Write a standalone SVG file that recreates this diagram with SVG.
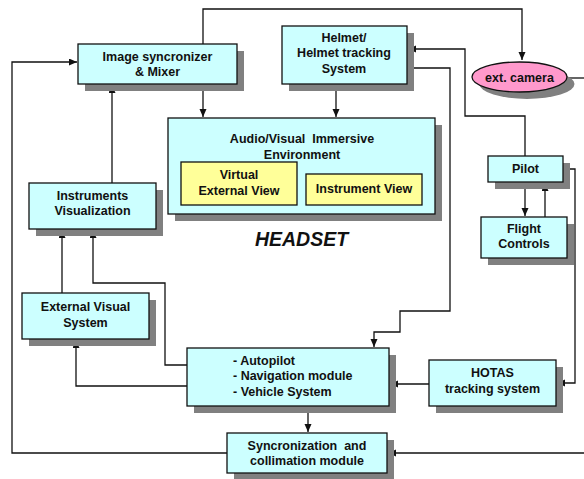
<svg xmlns="http://www.w3.org/2000/svg" width="584" height="479" viewBox="0 0 584 479">
<style>
.box{fill:#CCFFFF;stroke:#111;stroke-width:1.3}
.yel{fill:#FFFF99;stroke:#111;stroke-width:1.3}
.sh{fill:#808080}
text{font-family:"Liberation Sans",Arial,sans-serif;font-weight:bold;font-size:12.5px;fill:#111;text-anchor:middle}
.c{fill:none;stroke:#111;stroke-width:1.3}
</style>
<defs>
<marker id="ah" markerUnits="userSpaceOnUse" markerWidth="9" markerHeight="8" refX="8" refY="3.5" orient="auto">
<path d="M0,0 L8,3.5 L0,7 z" fill="#111"/>
</marker>
</defs>
<rect width="584" height="479" fill="#fff"/>
<g id="connectors">
<path class="c" d="M203,44 V9 H522 V60" marker-end="url(#ah)"/>
<path class="c" d="M227,453 H12 V62 H77" marker-end="url(#ah)"/>
<path class="c" d="M203,84 V117" marker-end="url(#ah)"/>
<path class="c" d="M336,84 V117" marker-end="url(#ah)"/>
<path class="c" d="M525,156 V116 H465 V49 H408" marker-end="url(#ah)"/>
<path class="c" d="M407,68 H450 V311 H400 V332 H374 V347" marker-end="url(#ah)"/>
<path class="c" d="M567,78 H584"/>
<path class="c" d="M584,453 H388" marker-end="url(#ah)"/>
<path class="c" d="M525,182 V216" marker-end="url(#ah)"/>
<path class="c" d="M545,217 V183" marker-end="url(#ah)"/>
<path class="c" d="M563,169 H575 V383 H557" marker-end="url(#ah)"/>
<path class="c" d="M429,384 H390" marker-end="url(#ah)"/>
<path class="c" d="M308,406 V432" marker-end="url(#ah)"/>
<path class="c" d="M112,183 V85" marker-end="url(#ah)"/>
<path class="c" d="M62,293 V230" marker-end="url(#ah)"/>
<path class="c" d="M187,365 H165 V283 H93 V230" marker-end="url(#ah)"/>
<path class="c" d="M187,386 H76 V340" marker-end="url(#ah)"/>
</g>
<g id="image-sync">
<rect class="sh" x="85" y="51" width="159" height="40"/>
<rect class="box" x="78" y="44" width="159" height="40"/>
<text x="157.5" y="61">Image syncronizer</text>
<text x="157.5" y="76">&amp; Mixer</text>
</g>
<g id="helmet">
<rect class="sh" x="289" y="33" width="125" height="58"/>
<rect class="box" x="282" y="26" width="125" height="58"/>
<text x="344" y="42">Helmet/</text>
<text x="344" y="57">Helmet tracking</text>
<text x="344" y="73">System</text>
</g>
<g id="ext-camera">
<ellipse cx="527" cy="84" rx="47.5" ry="15" fill="#808080"/>
<ellipse cx="519.5" cy="77" rx="47.5" ry="15" fill="#FF99CC" stroke="#111" stroke-width="1.3"/>
<text x="519.5" y="82">ext. camera</text>
</g>
<g id="av-environment">
<rect class="sh" x="175" y="125" width="267" height="96"/>
<rect class="box" x="168" y="118" width="267" height="96"/>
<text x="302" y="143" xml:space="preserve">Audio/Visual  Immersive</text>
<text x="302" y="159">Environment</text>
</g>
<g id="virtual-external-view">
<rect class="yel" x="181" y="162" width="116" height="43"/>
<text x="239" y="179">Virtual</text>
<text x="239" y="195">External View</text>
</g>
<g id="instrument-view">
<rect class="yel" x="306" y="174" width="116" height="31"/>
<text x="364" y="193">Instrument View</text>
</g>
<g id="headset-label">
<text x="301.5" y="246" style="font-size:19.5px;font-style:italic">HEADSET</text>
</g>
<g id="pilot">
<rect class="sh" x="495" y="163" width="75" height="26"/>
<rect class="box" x="488" y="156" width="75" height="26"/>
<text x="525.5" y="173">Pilot</text>
</g>
<g id="flight-controls">
<rect class="sh" x="488" y="224" width="86" height="41"/>
<rect class="box" x="481" y="217" width="86" height="41"/>
<text x="524" y="233">Flight</text>
<text x="524" y="248">Controls</text>
</g>
<g id="instruments-visualization">
<rect class="sh" x="36" y="190" width="127" height="46"/>
<rect class="box" x="29" y="183" width="127" height="46"/>
<text x="92.5" y="200">Instruments</text>
<text x="92.5" y="215">Visualization</text>
</g>
<g id="external-visual-system">
<rect class="sh" x="29" y="300" width="127" height="46"/>
<rect class="box" x="22" y="293" width="127" height="46"/>
<text x="85.5" y="311">External Visual</text>
<text x="85.5" y="327">System</text>
</g>
<g id="nav-module">
<rect class="sh" x="194" y="355" width="202" height="58"/>
<rect class="box" x="187" y="348" width="202" height="58"/>
<text x="233" y="365" style="text-anchor:start">- Autopilot</text>
<text x="233" y="380" style="text-anchor:start">- Navigation module</text>
<text x="233" y="395.5" style="text-anchor:start">- Vehicle System</text>
</g>
<g id="hotas">
<rect class="sh" x="436" y="367" width="127" height="46"/>
<rect class="box" x="429" y="360" width="127" height="46"/>
<text x="492.5" y="377">HOTAS</text>
<text x="492.5" y="393">tracking system</text>
</g>
<g id="sync-module">
<rect class="sh" x="234" y="440" width="160" height="40"/>
<rect class="box" x="227" y="433" width="160" height="40"/>
<text x="307" y="450" xml:space="preserve">Syncronization  and</text>
<text x="307" y="465">collimation module</text>
</g>
</svg>
